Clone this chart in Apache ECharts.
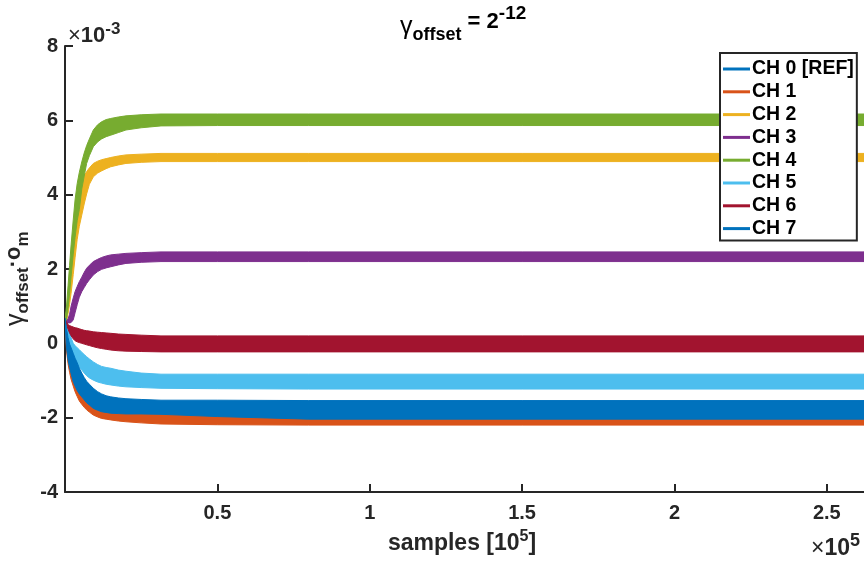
<!DOCTYPE html>
<html>
<head>
<meta charset="utf-8">
<script src="https://cdn.jsdelivr.net/npm/echarts@6/dist/echarts.min.js"></script>
<style>
html,body{margin:0;padding:0;background:#fff;}
#chart{width:864px;height:562px;}
</style>
</head>
<body>
<div id="chart"></div>
<script>
// ---- data (x in units of 10^5 samples, y in units of 10^-3) ----
const samples = [0, 0.005, 0.01, 0.015, 0.02, 0.027, 0.033, 0.04, 0.047, 0.055, 0.063, 0.071, 0.08, 0.093, 0.107, 0.12, 0.135, 0.15, 0.175, 0.2, 0.25, 0.315, 0.5, 0.8, 1.5, 2.622];

const channelNames = ['CH 0 [REF]', 'CH 1', 'CH 2', 'CH 3', 'CH 4', 'CH 5', 'CH 6', 'CH 7'];
const channelColors = ['#0072BD', '#D95319', '#EDB120', '#7E2F8E', '#77AC30', '#4DBEEE', '#A2142F', '#0072BD'];

// lower / upper envelope of each channel's band
const ch0Lo = [0.56, -0.07, -0.40, -0.60, -0.77, -0.98, -1.10, -1.22, -1.31, -1.39, -1.47, -1.55, -1.61, -1.70, -1.75, -1.79, -1.81, -1.83, -1.84, -1.85, -1.85, -1.86, -1.92, -1.99, -1.99, -1.99];
const ch0Hi = [0.66, 0.35, 0.10, -0.07, -0.17, -0.32, -0.45, -0.57, -0.72, -0.85, -0.97, -1.07, -1.15, -1.26, -1.35, -1.41, -1.46, -1.49, -1.52, -1.54, -1.56, -1.58, -1.58, -1.59, -1.59, -1.59];
const ch1Lo = [0.55, -0.20, -0.55, -0.78, -0.97, -1.15, -1.30, -1.43, -1.55, -1.64, -1.72, -1.79, -1.85, -1.93, -1.98, -2.02, -2.04, -2.06, -2.09, -2.11, -2.14, -2.17, -2.19, -2.20, -2.20, -2.20];
const ch1Hi = [0.60, 0.20, -0.15, -0.40, -0.57, -0.75, -0.90, -1.03, -1.15, -1.24, -1.32, -1.39, -1.45, -1.53, -1.58, -1.62, -1.64, -1.66, -1.69, -1.71, -1.74, -1.77, -1.79, -1.80, -1.80, -1.80];
const ch2Lo = [0.55, 0.60, 0.80, 1.05, 1.35, 1.85, 2.30, 2.80, 3.15, 3.45, 3.75, 4.02, 4.28, 4.48, 4.58, 4.64, 4.70, 4.75, 4.80, 4.84, 4.87, 4.89, 4.89, 4.89, 4.89, 4.89];
const ch2Hi = [0.65, 0.85, 1.20, 1.60, 2.00, 2.60, 3.10, 3.55, 3.95, 4.30, 4.50, 4.62, 4.72, 4.84, 4.90, 4.94, 4.97, 5.00, 5.04, 5.07, 5.09, 5.11, 5.11, 5.11, 5.11, 5.11];
const ch3Lo = [0.55, 0.55, 0.55, 0.55, 0.56, 0.63, 0.82, 1.04, 1.24, 1.39, 1.50, 1.61, 1.71, 1.84, 1.93, 1.99, 2.03, 2.06, 2.11, 2.15, 2.18, 2.20, 2.20, 2.20, 2.20, 2.20];
const ch3Hi = [0.65, 0.62, 0.66, 0.78, 1.00, 1.22, 1.39, 1.53, 1.66, 1.78, 1.91, 2.02, 2.10, 2.20, 2.26, 2.31, 2.35, 2.38, 2.40, 2.42, 2.44, 2.46, 2.46, 2.46, 2.46, 2.46];
const ch4Lo = [0.55, 0.65, 0.95, 1.35, 1.80, 2.40, 2.85, 3.30, 3.60, 4.15, 4.50, 4.84, 5.05, 5.29, 5.42, 5.50, 5.56, 5.60, 5.67, 5.74, 5.80, 5.85, 5.86, 5.86, 5.86, 5.86];
const ch4Hi = [0.65, 1.00, 1.55, 2.10, 2.65, 3.32, 3.86, 4.30, 4.60, 4.88, 5.12, 5.32, 5.50, 5.74, 5.88, 5.96, 6.02, 6.05, 6.09, 6.12, 6.15, 6.17, 6.17, 6.17, 6.17, 6.17];
const ch5Lo = [0.55, 0.30, 0.08, -0.08, -0.20, -0.36, -0.46, -0.55, -0.64, -0.72, -0.80, -0.87, -0.93, -0.99, -1.04, -1.07, -1.10, -1.12, -1.15, -1.17, -1.19, -1.21, -1.22, -1.23, -1.23, -1.23];
const ch5Hi = [0.65, 0.55, 0.42, 0.30, 0.15, 0.00, -0.06, -0.12, -0.17, -0.24, -0.30, -0.36, -0.42, -0.50, -0.57, -0.62, -0.65, -0.67, -0.72, -0.75, -0.80, -0.83, -0.83, -0.83, -0.83, -0.83];
const ch6Lo = [0.55, 0.50, 0.38, 0.28, 0.20, 0.12, 0.07, 0.04, 0.02, 0.00, -0.02, -0.04, -0.06, -0.09, -0.12, -0.14, -0.16, -0.18, -0.20, -0.21, -0.22, -0.23, -0.23, -0.23, -0.23, -0.23];
const ch6Hi = [0.65, 0.58, 0.50, 0.48, 0.46, 0.44, 0.42, 0.41, 0.39, 0.37, 0.35, 0.34, 0.33, 0.31, 0.30, 0.29, 0.28, 0.27, 0.25, 0.24, 0.22, 0.20, 0.20, 0.20, 0.20, 0.20];
const ch7Lo = [0.55, -0.12, -0.45, -0.65, -0.82, -1.03, -1.15, -1.27, -1.36, -1.44, -1.52, -1.60, -1.66, -1.75, -1.80, -1.84, -1.86, -1.88, -1.89, -1.90, -1.90, -1.91, -1.97, -2.04, -2.04, -2.04];
const ch7Hi = [0.68, 0.40, 0.15, -0.02, -0.12, -0.27, -0.40, -0.52, -0.67, -0.80, -0.92, -1.02, -1.10, -1.21, -1.30, -1.36, -1.41, -1.44, -1.47, -1.49, -1.51, -1.53, -1.53, -1.54, -1.54, -1.54];

const lows  = [ch0Lo, ch1Lo, ch2Lo, ch3Lo, ch4Lo, ch5Lo, ch6Lo, ch7Lo];
const highs = [ch0Hi, ch1Hi, ch2Hi, ch3Hi, ch4Hi, ch5Hi, ch6Hi, ch7Hi];

const xTicks = { min: 0, max: 2.622, interval: 0.5 };
const yTicks = { min: -4, max: 8, interval: 2 };

// ---- build ----
const FONT = "'Liberation Sans', Arial, Helvetica, sans-serif";
const AX = '#262626';

const series = channelNames.map((name, i) => {
  const lo = lows[i], hi = highs[i], col = channelColors[i];
  return {
    type: 'custom', name: name, coordinateSystem: 'cartesian2d', clip: true, silent: true,
    color: col, itemStyle: { color: col },
    encode: { x: 0, y: 1 },
    data: [[samples[0], lo[0]]],
    renderItem: (params, api) => {
      const top = samples.map((x, j) => api.coord([x, hi[j]]));
      const bot = samples.map((x, j) => api.coord([x, lo[j]])).reverse();
      return {
        type: 'polygon',
        shape: { points: top.concat(bot) },
        style: { fill: col, stroke: col, lineWidth: 1, lineJoin: 'round' }
      };
    }
  };
});

const mctx = document.createElement('canvas').getContext('2d');
function measure(t, font) { mctx.font = font; return mctx.measureText(t).width; }
function fsOf(font) { return parseFloat(font.match(/([\d.]+)px/)[1]); }
function run(x0, base, pieces, align) {
  const widths = pieces.map(p => measure(p.t, p.font));
  const total = widths.reduce((a, b) => a + b, 0);
  let cx = align === 'center' ? x0 - total / 2 : x0;
  return pieces.map((p, k) => {
    const fs = fsOf(p.font);
    const el = {
      type: 'text', x: cx, y: base + (p.dy || 0) - 0.35 * fs,
      style: { text: p.t, font: p.font, fill: p.fill || '#000', align: 'left', verticalAlign: 'middle' }
    };
    cx += widths[k];
    return el;
  });
}

const B = s => 'bold ' + s + 'px ' + FONT;
const N = s => s + 'px ' + FONT;

const graphic = [].concat(
  run(400, 30, [
    { t: 'γ', font: N(25), dy: 6 },
    { t: 'offset', font: B(18), dy: 11 },
    { t: ' = 2', font: B(22), dy: 0 },
    { t: '-12', font: B(19), dy: -10 }
  ]),
  run(68, 44, [
    { t: '×', font: N(22), fill: AX },
    { t: '10', font: B(22), fill: AX },
    { t: '-3', font: B(17), dy: -9, fill: AX }
  ]),
  run(811, 557, [
    { t: '×', font: N(23), fill: AX },
    { t: '10', font: B(23), fill: AX },
    { t: '5', font: B(18), dy: -10, fill: AX }
  ]),
  run(462, 552, [
    { t: 'samples [10', font: B(23), fill: AX },
    { t: '5', font: B(16), dy: -10, fill: AX },
    { t: ']', font: B(23), fill: AX }
  ], 'center'),
  [{
    type: 'group', x: 22, y: 326, rotation: Math.PI / 2,
    children: run(0, 0, [
      { t: 'γ', font: N(25), dy: 3, fill: AX },
      { t: 'offset', font: B(17), dy: 7, fill: AX },
      { t: '·o', font: B(22), fill: AX },
      { t: 'm', font: B(17), dy: 7, fill: AX }
    ])
  }]
);

const chart = echarts.init(document.getElementById('chart'), null, { renderer: 'canvas' });
chart.setOption({
  animation: false,
  backgroundColor: '#fff',
  grid: { left: 65, right: 0, top: 46, bottom: 70, containLabel: false },
  xAxis: {
    type: 'value', min: xTicks.min, max: xTicks.max, interval: xTicks.interval,
    axisLine: { show: true, onZero: false, lineStyle: { color: AX, width: 2 } },
    axisTick: { show: true, inside: true, length: 8, lineStyle: { color: AX, width: 2 } },
    splitLine: { show: false },
    axisLabel: {
      color: AX, fontSize: 20, fontWeight: 'bold', fontFamily: FONT, margin: 11,
      formatter: v => (v === 0 ? '' : String(v)), showMaxLabel: false
    }
  },
  yAxis: {
    type: 'value', min: yTicks.min, max: yTicks.max, interval: yTicks.interval,
    axisLine: { show: true, onZero: false, lineStyle: { color: AX, width: 2 } },
    axisTick: { show: true, inside: true, length: 8, lineStyle: { color: AX, width: 2 } },
    splitLine: { show: false },
    axisLabel: { color: AX, fontSize: 20, fontWeight: 'bold', fontFamily: FONT, margin: 7 }
  },
  legend: {
    data: channelNames.map((n, i) => ({ name: n, itemStyle: { color: channelColors[i] } })),
    orient: 'vertical', left: 720, top: 53,
    icon: 'rect', itemWidth: 27, itemHeight: 3, itemGap: 2.8,
    padding: [6, 3, 2, 3],
    borderColor: AX, borderWidth: 2, backgroundColor: '#fff',
    selectedMode: false,
    textStyle: { color: '#000', fontSize: 19.5, fontWeight: 'bold', fontFamily: FONT, lineHeight: 18, padding: [0, 0, 0, -3] }
  },
  series: series,
  graphic: graphic
});
</script>
</body>
</html>
